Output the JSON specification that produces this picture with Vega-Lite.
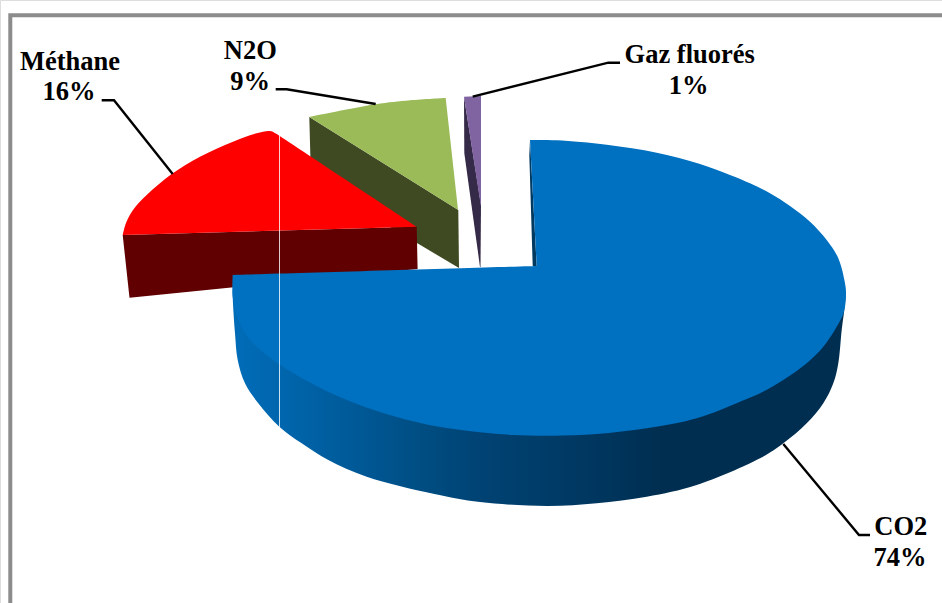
{
"$schema":"https://vega.github.io/schema/vega-lite/v6.json",
"width":942,"height":603,"padding":0,"autosize":{"type":"none"},"background":"white",
"datasets":{
"outlines":[
{"part":"n2o_side","seq":1,"x":309.3,"y":117},{"part":"n2o_side","seq":2,"x":458.3,"y":210},{"part":"n2o_side","seq":3,"x":459,"y":268},{"part":"n2o_side","seq":4,"x":311,"y":180},
{"part":"n2o_top","seq":1,"x":309.3,"y":117},{"part":"n2o_top","seq":2,"x":375.7,"y":104.3},{"part":"n2o_top","seq":3,"x":410,"y":100.3},{"part":"n2o_top","seq":4,"x":445.7,"y":98},{"part":"n2o_top","seq":5,"x":445.7,"y":98},{"part":"n2o_top","seq":6,"x":458.3,"y":210},
{"part":"fluor_side","seq":1,"x":464,"y":96.7},{"part":"fluor_side","seq":2,"x":481,"y":205},{"part":"fluor_side","seq":3,"x":480.5,"y":267},{"part":"fluor_side","seq":4,"x":480,"y":267},{"part":"fluor_side","seq":5,"x":464.3,"y":153},
{"part":"fluor_top","seq":1,"x":464,"y":96.7},{"part":"fluor_top","seq":2,"x":481,"y":96},{"part":"fluor_top","seq":3,"x":481,"y":207},
{"part":"ch4_side","seq":1,"x":122.7,"y":235},{"part":"ch4_side","seq":2,"x":416.7,"y":226.7},{"part":"ch4_side","seq":3,"x":417.6,"y":269},{"part":"ch4_side","seq":4,"x":129.5,"y":297.7},
{"part":"ch4_top","seq":1,"x":122.7,"y":235},{"part":"ch4_top","seq":2,"x":126,"y":223},{"part":"ch4_top","seq":3,"x":133,"y":210},{"part":"ch4_top","seq":4,"x":146.7,"y":195},{"part":"ch4_top","seq":5,"x":171.7,"y":174},{"part":"ch4_top","seq":6,"x":200,"y":156.7},{"part":"ch4_top","seq":7,"x":233,"y":141.7},{"part":"ch4_top","seq":8,"x":256.7,"y":133.3},{"part":"ch4_top","seq":9,"x":270,"y":131},{"part":"ch4_top","seq":10,"x":276.7,"y":134},{"part":"ch4_top","seq":11,"x":276.7,"y":134},{"part":"ch4_top","seq":12,"x":416.7,"y":226.7},
{"part":"co2_side","seq":1,"x":232.7,"y":290},{"part":"co2_side","seq":2,"x":232.7,"y":296.7},{"part":"co2_side","seq":3,"x":235,"y":333.3},{"part":"co2_side","seq":4,"x":237.7,"y":360},{"part":"co2_side","seq":5,"x":245,"y":383.3},{"part":"co2_side","seq":6,"x":258.3,"y":403.3},{"part":"co2_side","seq":7,"x":279.3,"y":426.7},{"part":"co2_side","seq":8,"x":301.7,"y":443.3},{"part":"co2_side","seq":9,"x":328.3,"y":460},{"part":"co2_side","seq":10,"x":366.7,"y":476.7},{"part":"co2_side","seq":11,"x":433.3,"y":493.7},{"part":"co2_side","seq":12,"x":480,"y":502},{"part":"co2_side","seq":13,"x":546.7,"y":506},{"part":"co2_side","seq":14,"x":596.7,"y":503.3},{"part":"co2_side","seq":15,"x":646.7,"y":496.7},{"part":"co2_side","seq":16,"x":696.7,"y":485},{"part":"co2_side","seq":17,"x":760,"y":458.3},{"part":"co2_side","seq":18,"x":783.3,"y":443.3},{"part":"co2_side","seq":19,"x":806.7,"y":423.3},{"part":"co2_side","seq":20,"x":823.3,"y":403.3},{"part":"co2_side","seq":21,"x":833.3,"y":383.3},{"part":"co2_side","seq":22,"x":838.3,"y":363.3},{"part":"co2_side","seq":23,"x":841.7,"y":330},{"part":"co2_side","seq":24,"x":844.3,"y":310},{"part":"co2_side","seq":25,"x":846,"y":293},
{"part":"co2_inner","seq":1,"x":530,"y":140},{"part":"co2_inner","seq":2,"x":536.7,"y":266},{"part":"co2_inner","seq":3,"x":532.7,"y":266},{"part":"co2_inner","seq":4,"x":529.3,"y":155},
{"part":"co2_top","seq":1,"x":530,"y":140},{"part":"co2_top","seq":2,"x":556.7,"y":140.3},{"part":"co2_top","seq":3,"x":606.7,"y":144.7},{"part":"co2_top","seq":4,"x":656.7,"y":152.7},{"part":"co2_top","seq":5,"x":700,"y":164},{"part":"co2_top","seq":6,"x":730,"y":175},{"part":"co2_top","seq":7,"x":750,"y":183.3},{"part":"co2_top","seq":8,"x":770,"y":193.3},{"part":"co2_top","seq":9,"x":790,"y":206},{"part":"co2_top","seq":10,"x":810,"y":221.7},{"part":"co2_top","seq":11,"x":826.7,"y":240},{"part":"co2_top","seq":12,"x":838.3,"y":258.3},{"part":"co2_top","seq":13,"x":845,"y":283.3},{"part":"co2_top","seq":14,"x":846,"y":293.3},{"part":"co2_top","seq":15,"x":844,"y":311.7},{"part":"co2_top","seq":16,"x":836.7,"y":326.7},{"part":"co2_top","seq":17,"x":823.3,"y":346.7},{"part":"co2_top","seq":18,"x":806.7,"y":363.3},{"part":"co2_top","seq":19,"x":783.3,"y":380},{"part":"co2_top","seq":20,"x":760,"y":393.3},{"part":"co2_top","seq":21,"x":740,"y":401.7},{"part":"co2_top","seq":22,"x":696.7,"y":418.3},{"part":"co2_top","seq":23,"x":646.7,"y":428.3},{"part":"co2_top","seq":24,"x":596.7,"y":434},{"part":"co2_top","seq":25,"x":553,"y":435.7},{"part":"co2_top","seq":26,"x":513,"y":435},{"part":"co2_top","seq":27,"x":480,"y":432.3},{"part":"co2_top","seq":28,"x":433,"y":425.7},{"part":"co2_top","seq":29,"x":383,"y":413},{"part":"co2_top","seq":30,"x":345,"y":399.3},{"part":"co2_top","seq":31,"x":308.3,"y":381.7},{"part":"co2_top","seq":32,"x":279.3,"y":364.3},{"part":"co2_top","seq":33,"x":251.7,"y":341.7},{"part":"co2_top","seq":34,"x":238.3,"y":320},{"part":"co2_top","seq":35,"x":232.7,"y":296.7},{"part":"co2_top","seq":36,"x":232.7,"y":275},{"part":"co2_top","seq":37,"x":232.7,"y":275},{"part":"co2_top","seq":38,"x":536.7,"y":266},
{"part":"seam","seq":1,"x":279.5,"y":135},{"part":"seam","seq":2,"x":279.5,"y":427},
{"part":"lead_ch4","seq":1,"x":101.7,"y":100.3},{"part":"lead_ch4","seq":2,"x":114,"y":100.3},{"part":"lead_ch4","seq":3,"x":172.7,"y":174},
{"part":"lead_n2o","seq":1,"x":275.7,"y":89.3},{"part":"lead_n2o","seq":2,"x":286.7,"y":89.3},{"part":"lead_n2o","seq":3,"x":375.7,"y":104},
{"part":"lead_fluor","seq":1,"x":472.7,"y":96.7},{"part":"lead_fluor","seq":2,"x":608.3,"y":62.7},{"part":"lead_fluor","seq":3,"x":620,"y":62.7},
{"part":"lead_co2","seq":1,"x":783.3,"y":444},{"part":"lead_co2","seq":2,"x":859,"y":535},{"part":"lead_co2","seq":3,"x":870,"y":535},
{"part":"frame","seq":1,"x":10.3,"y":603},{"part":"frame","seq":2,"x":10.3,"y":15.3},{"part":"frame","seq":3,"x":942,"y":15.3}
],
"labels":[
{"text":"Méthane","x":70,"y":70},{"text":"16%","x":69,"y":100},
{"text":"N2O","x":250.3,"y":59},{"text":"9%","x":250,"y":90},
{"text":"Gaz fluorés","x":689.7,"y":63},{"text":"1%","x":688.7,"y":94},
{"text":"CO2","x":900.8,"y":535},{"text":"74%","x":900,"y":566}
]},
"encoding":{
"x":{"field":"x","type":"quantitative","axis":null,"scale":{"domain":[0,942],"nice":false,"zero":false}},
"y":{"field":"y","type":"quantitative","axis":null,"scale":{"domain":[603,0],"nice":false,"zero":false}}
},
"layer":[
{"data":{"name":"outlines"},"transform":[{"filter":"datum.part==='n2o_side'"}],"mark":{"type":"line","fill":"#3f4a23","stroke":null},"encoding":{"order":{"field":"seq"}}},
{"data":{"name":"outlines"},"transform":[{"filter":"datum.part==='n2o_top'"}],"mark":{"type":"line","interpolate":"catmull-rom","fill":"#9bbb59","stroke":null},"encoding":{"order":{"field":"seq"}}},
{"data":{"name":"outlines"},"transform":[{"filter":"datum.part==='fluor_side'"}],"mark":{"type":"line","fill":"#352a48","stroke":null},"encoding":{"order":{"field":"seq"}}},
{"data":{"name":"outlines"},"transform":[{"filter":"datum.part==='fluor_top'"}],"mark":{"type":"line","fill":"#8064a2","stroke":null},"encoding":{"order":{"field":"seq"}}},
{"data":{"name":"outlines"},"transform":[{"filter":"datum.part==='ch4_side'"}],"mark":{"type":"line","fill":"#600000","stroke":null},"encoding":{"order":{"field":"seq"}}},
{"data":{"name":"outlines"},"transform":[{"filter":"datum.part==='ch4_top'"}],"mark":{"type":"line","interpolate":"catmull-rom","fill":"#ff0000","stroke":null},"encoding":{"order":{"field":"seq"}}},
{"data":{"name":"outlines"},"transform":[{"filter":"datum.part==='co2_side'"}],"mark":{"type":"line","interpolate":"catmull-rom","stroke":null,"fill":{"gradient":"linear","x1":0,"y1":0,"x2":1,"y2":0,"stops":[{"offset":0,"color":"#006cb8"},{"offset":0.08,"color":"#0066ad"},{"offset":0.19,"color":"#005a99"},{"offset":0.32,"color":"#004c80"},{"offset":0.4,"color":"#004374"},{"offset":0.6,"color":"#00365e"},{"offset":0.7,"color":"#002e50"},{"offset":1,"color":"#002e50"}]}},"encoding":{"order":{"field":"seq"}}},
{"data":{"name":"outlines"},"transform":[{"filter":"datum.part==='co2_inner'"}],"mark":{"type":"line","fill":"#003a60","stroke":null},"encoding":{"order":{"field":"seq"}}},
{"data":{"name":"outlines"},"transform":[{"filter":"datum.part==='co2_top'"}],"mark":{"type":"line","interpolate":"catmull-rom","fill":"#0070c0","stroke":null},"encoding":{"order":{"field":"seq"}}},
{"data":{"name":"outlines"},"transform":[{"filter":"datum.part==='seam'"}],"mark":{"type":"line","stroke":"#ffffff","strokeWidth":1,"opacity":0.8},"encoding":{"order":{"field":"seq"}}},
{"data":{"name":"outlines"},"transform":[{"filter":"indexof(datum.part,'lead_')===0"}],"mark":{"type":"line","stroke":"#000000","strokeWidth":2.4},"encoding":{"order":{"field":"seq"},"detail":{"field":"part"}}},
{"data":{"name":"outlines"},"transform":[{"filter":"datum.part==='frame'"}],"mark":{"type":"line","stroke":"#8c8c8c","strokeWidth":4,"strokeJoin":"miter"},"encoding":{"order":{"field":"seq"}}},
{"data":{"name":"labels"},"mark":{"type":"text","font":"Liberation Serif","fontWeight":"bold","fontSize":26.5,"align":"center","baseline":"alphabetic","color":"#000000"},"encoding":{"text":{"field":"text"}}}
]
}
